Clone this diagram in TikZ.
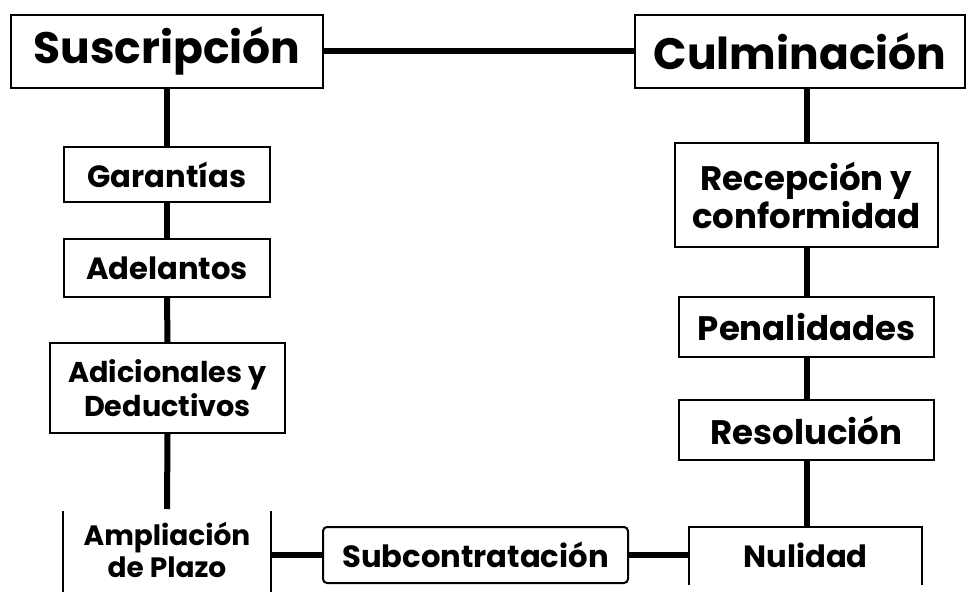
\documentclass[tikz,border=0pt]{standalone}
\usepackage{fontspec}
\setmainfont{Poppins}
\usetikzlibrary{calc}

\begin{document}
\begin{tikzpicture}[x=0.75pt,y=-0.75pt,
	box/.style={draw=black,line width=1.5pt,fill=white,inner sep=0pt,align=center,font=\bfseries\fontsize{23}{28.5}\selectfont},
	rbox/.style={box,font=\bfseries\fontsize{25.5}{28.5}\selectfont},
	bigbox/.style={box,font=\bfseries\fontsize{33}{35}\selectfont},
	smallbox/.style={box,font=\bfseries\fontsize{21.5}{25.5}\selectfont},
	link/.style={line width=4.5pt},
	side/.style={line width=1.5pt}]
		%%%%% START %%%%%
		\useasboundingbox (0,0) rectangle (966,592);
		
		% top row
		\node[bigbox,minimum width=234pt,minimum height=54.75pt] (susc) at (167,51.5) {Suscripción};
		\node[bigbox,minimum width=247.5pt,minimum height=54.75pt] (culm) at (800,51.5) {Culminación};
		\draw[link] (susc.east) -- (culm.west);
		
		% left column
		\node[box,minimum width=154.5pt,minimum height=41.25pt] (gar) at (167,174.5) {Garantías};
		\node[box,minimum width=154.5pt,minimum height=43.5pt] (adel) at (167,268) {Adelantos};
		\node[smallbox,minimum width=176.25pt,minimum height=67.5pt] (adic) at (167.5,388) {Adicionales y\\Deductivos};
		\node[smallbox,draw=none,fill=none,font=\bfseries\fontsize{21}{24}\selectfont] (ampl) at (167,550) {Ampliación\\de Plazo};
		\coordinate (amplL) at (63,511);
		\coordinate (amplR) at (271,511);
		\draw[side] (amplL) -- (63,592);
		\draw[side] (amplR) -- (271,592);
		
		\draw[link] (susc.south) -- (gar.north);
		\draw[link] (gar.south) -- (adel.north);
		\draw[link] (adel.south) -- (adic.north);
		\draw[link] (adic.south) -- (167,509);
		
		% bottom row
		\node[box,rounded corners=3pt,minimum width=228.75pt,minimum height=42pt] (sub) at (475.5,555) {Subcontratación};
		\node[box,draw=none,fill=none] (nul) at (805.5,555) {Nulidad};
		\coordinate (nulL) at (689,527);
		\coordinate (nulR) at (922,527);
		\draw[side] (689,585) -- (nulL) -- (nulR) -- (922,585);
		
		\draw[link] (271,555) -- (sub.west);
		\draw[link] (sub.east) -- (nulL |- sub.east);
		
		% right column
		\node[rbox,minimum width=197.25pt,minimum height=78pt] (recep) at (806.5,195) {Recepción y\\conformidad};
		\node[rbox,minimum width=191.25pt,minimum height=45pt] (pen) at (806.5,327) {Penalidades};
		\node[rbox,minimum width=191.25pt,minimum height=45pt] (res) at (806.5,430) {Resolución};
		
		\draw[link] (culm.south -| recep.north) -- (recep.north);
		\draw[link] (recep.south) -- (pen.north);
		\draw[link] (pen.south) -- (res.north);
		\draw[link] (res.south) -- (res.south |- nulL);
		%%%%% END %%%%%
	\end{tikzpicture}
\end{document}
